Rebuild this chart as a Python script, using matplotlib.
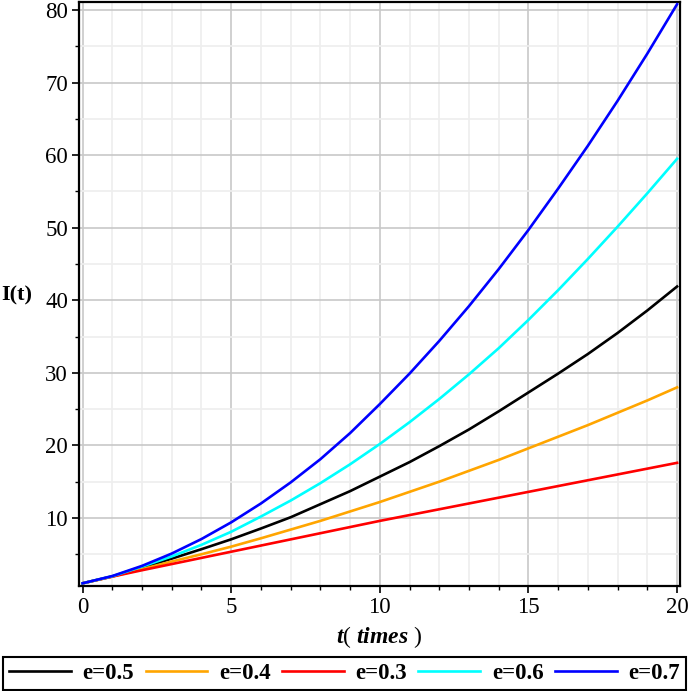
import matplotlib
matplotlib.use('Agg')
import matplotlib.pyplot as plt
from matplotlib.ticker import MultipleLocator

plt.rcParams['font.family'] = ['Liberation Serif', 'DejaVu Serif']
plt.rcParams['mathtext.fontset'] = 'custom'
plt.rcParams['mathtext.it'] = 'Liberation Serif:italic:bold'
plt.rcParams['mathtext.rm'] = 'Liberation Serif'

# values
t = list(range(0, 21))
i_05 = [1, 1.95, 3.15, 4.4, 5.7, 7.06, 8.55, 10.1, 11.9, 13.7, 15.7,
        17.7, 19.9, 22.2, 24.7, 27.3, 29.9, 32.6, 35.5, 38.6, 41.9]
i_04 = [1, 1.93, 2.95, 4.0, 5.0, 6.05, 7.2, 8.4, 9.6, 10.9, 12.2,
        13.6, 15.0, 16.5, 18.0, 19.6, 21.2, 22.8, 24.5, 26.2, 28.0]
i_03 = [1, 1.92, 2.8, 3.65, 4.5, 5.35, 6.2, 7.05, 7.9, 8.75, 9.6,
        10.4, 11.2, 12.0, 12.8, 13.6, 14.4, 15.2, 16.0, 16.8, 17.6]
i_06 = [1, 1.97, 3.3, 4.7, 6.3, 8.1, 10.2, 12.4, 14.8, 17.4, 20.2,
        23.2, 26.4, 29.8, 33.4, 37.3, 41.4, 45.7, 50.15, 54.75, 59.5]
i_07 = [1, 2.0, 3.4, 5.1, 7.1, 9.4, 12.0, 14.9, 18.1, 21.7, 25.7,
        29.9, 34.4, 39.2, 44.3, 49.7, 55.4, 61.3, 67.5, 74.0, 80.8]

series = [('e=0.5', i_05, 'black'),
          ('e=0.4', i_04, 'orange'),
          ('e=0.3', i_03, 'red'),
          ('e=0.6', i_06, 'cyan'),
          ('e=0.7', i_07, 'blue')]

fig = plt.figure(figsize=(6.89, 6.91), dpi=100)
ax = fig.add_axes([0.1147, 0.152, 0.8723, 0.845])

for lab, vals, col in series:
    ax.plot(t, vals, color=col, lw=1.9, label=lab, zorder=3)

ax.set_xlim(-0.12, 20.1)
ax.set_ylim(0.63, 81.1)

ax.xaxis.set_major_locator(MultipleLocator(5))
ax.xaxis.set_minor_locator(MultipleLocator(1))
ax.yaxis.set_major_locator(MultipleLocator(10))
ax.yaxis.set_minor_locator(MultipleLocator(5))

ax.grid(which='major', color='#c8c8c8', lw=1.2, zorder=0)
ax.grid(which='minor', color='#eeeeee', lw=1.2, zorder=0)
ax.set_axisbelow(True)

ax.tick_params(which='major', direction='out', length=5, width=1.2,
               labelsize=16.5, top=False, right=False, pad=3)
ax.tick_params(which='minor', direction='out', length=3, width=1.0,
               top=False, right=False)
for s in ax.spines.values():
    s.set_linewidth(1.6)
    s.set_color('black')

ax.set_xlabel(r'$t$( $times$ )', fontsize=17, labelpad=4)
ax.set_ylabel('I(t)', fontsize=16, fontweight='bold', rotation=0,
              va='center', ha='center')
ax.yaxis.set_label_coords(-0.103, 0.498)

leg = fig.legend(loc='lower center', ncol=5,
                 bbox_to_anchor=(0.5, 0.002),
                 prop={'weight': 'bold', 'size': 16.5},
                 handlelength=2.7, fancybox=False, edgecolor='black',
                 framealpha=1, borderaxespad=0, columnspacing=0.5,
                 handletextpad=0.5, borderpad=0.25)
leg.get_frame().set_linewidth(1.5)

fig.savefig('out.png', dpi=100)
